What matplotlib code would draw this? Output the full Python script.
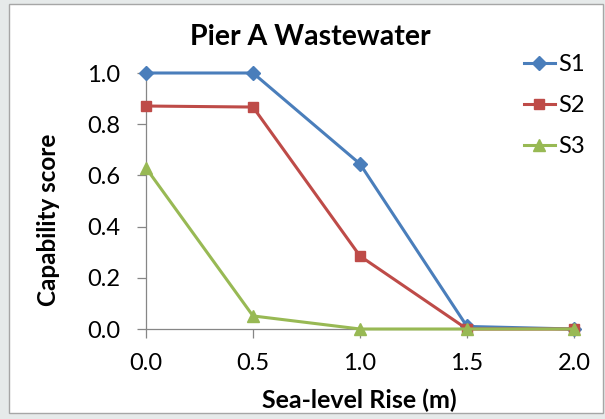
import matplotlib
matplotlib.use("Agg")
import matplotlib.pyplot as plt
from matplotlib.patches import Rectangle

plt.rcParams['font.family'] = ['Lato', 'DejaVu Sans']

# sea-level rise (m) and capability score per scenario
rise = [0.0, 0.5, 1.0, 1.5, 2.0]
s1 = [1.0, 1.0, 0.645, 0.01, 0.0]
s2 = [0.871, 0.867, 0.285, 0.0, 0.0]
s3 = [0.629, 0.051, 0.0, 0.0, 0.0]
names = ['S1', 'S2', 'S3']
colors = ['#4A7EBB', '#BE4B48', '#98B954']
markers = ['D', 's', '^']
msizes = [7, 7.5, 8]

W, H = 605, 419
fig = plt.figure(figsize=(W / 100, H / 100), dpi=100)
fig.patch.set_facecolor('#e6eaea')
fig.patches.append(Rectangle((9 / W, 1 - 413 / H), 594 / W, 409 / H,
                             transform=fig.transFigure, facecolor='white',
                             edgecolor='#a6a6a6', lw=1.0, zorder=-10))

ax = fig.add_axes([146 / W, 1 - 329 / H, 428 / W, 256 / H])
ax.set_facecolor('none')

for ys, name, c, m, ms in zip([s1, s2, s3], names, colors, markers, msizes):
    ax.plot(rise, ys, color=c, lw=2.2, marker=m, ms=ms, mec=c, mfc=c,
            label=name, clip_on=False, zorder=3)

ax.set_xlim(0, 2.0)
ax.set_ylim(0, 1.0)
ax.set_xticks([0.0, 0.5, 1.0, 1.5, 2.0])
ax.set_yticks([0.0, 0.2, 0.4, 0.6, 0.8, 1.0])
ax.xaxis.set_major_formatter(matplotlib.ticker.FormatStrFormatter('%.1f'))
ax.yaxis.set_major_formatter(matplotlib.ticker.FormatStrFormatter('%.1f'))

for side in ['top', 'right']:
    ax.spines[side].set_visible(False)
for side in ['left', 'bottom']:
    ax.spines[side].set_color('#868686')
    ax.spines[side].set_linewidth(0.9)
ax.tick_params(axis='both', direction='out', length=6.5, width=0.9,
               color='#868686', labelsize=17, labelcolor='black')
ax.tick_params(axis='y', pad=12)
ax.tick_params(axis='x', pad=11)

# labels and title sit relative to the chart frame, not the plot area
fig.text(359 / W, 1 - 400 / H, 'Sea-level Rise (m)', fontsize=18,
         fontweight='bold', ha='center', va='center')
fig.text(49 / W, 1 - 220 / H, 'Capability score', fontsize=17.5,
         fontweight='bold', ha='center', va='center', rotation=90)
fig.text(310 / W, 1 - 45 / H, 'Pier A Wastewater', fontsize=20.5,
         fontweight='bold', ha='center', va='baseline')

fig.legend(loc='upper left', bbox_to_anchor=(524 / W, 1 - 54 / H),
           frameon=False, fontsize=17, handlelength=1.3, handletextpad=0.15,
           labelspacing=0.85, borderpad=0, borderaxespad=0)

fig.savefig('out.png', dpi=100, facecolor=fig.get_facecolor())
